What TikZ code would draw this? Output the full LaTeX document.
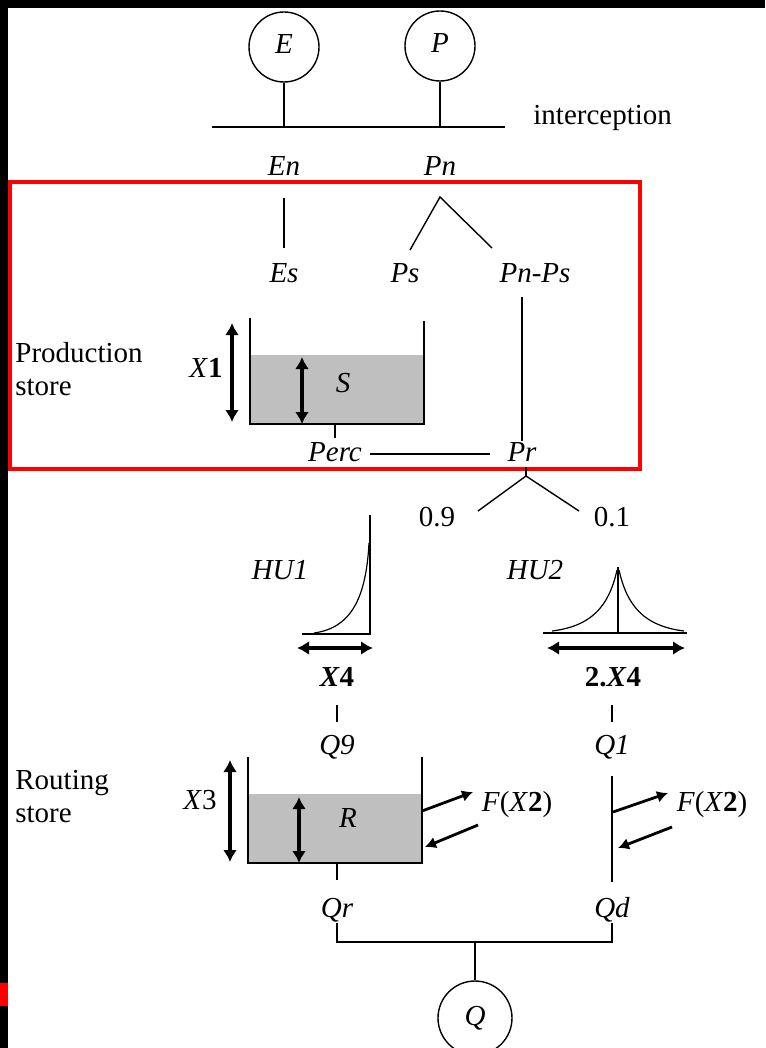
\documentclass[tikz,border=0pt]{standalone}
\usepackage{fontspec}
\setmainfont{Liberation Serif}
\usetikzlibrary{arrows.meta}

\begin{document}
\begin{tikzpicture}[
  x=0.5pt,y=-0.5pt,
  txt/.style={font=\fontsize{14.5}{17}\selectfont,inner sep=0pt,text height=10pt,text depth=3pt},
  var/.style={txt,font=\fontsize{14.5}{17}\selectfont\itshape},
  side/.style={font=\fontsize{14.5}{16.5}\selectfont,inner sep=0pt,align=left,anchor=west},
  src/.style={circle,draw,line width=0.7pt,minimum size=35pt,inner sep=0pt,var},
  ln/.style={line width=0.7pt},
  hydro/.style={line width=0.6pt},
  dim/.style={line width=1.6pt,{Latex[length=6pt,width=7pt]}-{Latex[length=6pt,width=7pt]}},
  flux/.style={line width=1.4pt,-{Latex[length=5.5pt,width=6pt]}},
  water/.style={fill=black!25}
]
  \useasboundingbox (0,0) rectangle (765,1048);
  \fill[white] (0,0) rectangle (765,1048);
  \fill[black] (0,0) rectangle (765,8);
  \fill[black] (0,0) rectangle (8,1048);
  \fill[red] (0,983) rectangle (8,1006);

  % interception
  \node[src] (E) at (284,47) {E};
  \node[src] (P) at (440,46) {P};
  \coordinate (icpL) at (212,127);
  \coordinate (icpR) at (505,127);
  \node[txt,anchor=west] (icp) at (533,118) {interception};
  \draw[ln] (icpL) -- (icpR);
  \draw[ln] (E) -- (E |- icpL);
  \draw[ln] (P) -- (P |- icpL);

  % production store
  \draw[red,line width=2.4pt] (10,182) rectangle (640,469);
  \node[var] (En) at (284,169) {En};
  \node[var] (Pn) at (440,169) {Pn};
  \node[var] (Es) at (284,275) {Es};
  \node[var] (Ps) at (405,275) {Ps};
  \node[var] (PnPs) at (535,275) {Pn-Ps};
  \coordinate (pnfork) at (440,197);
  \coordinate (psend) at (410,250);
  \coordinate (pnpsend) at (492,248);
  \draw[ln,shorten <=8pt,shorten >=7pt] (En) -- (Es);
  \draw[ln] (psend) -- (pnfork) -- (pnpsend);

  \node[side] (prodlbl) at (15,369) {Production\\store};
  \coordinate (ptl) at (250,318);
  \coordinate (pbl) at (250,424);
  \coordinate (pbr) at (424,424);
  \coordinate (ptr) at (424,321);
  \fill[water] (250,355) rectangle (pbr);
  \draw[ln] (ptl) -- (pbl) -- (pbr) -- (ptr);
  \draw[dim] (232,323) -- (232,422);
  \node[txt] (X1) at (206,370) {\textit{X}\textbf{1}};
  \draw[dim] (302,357) -- (302,424);
  \node[var] (S) at (343,385) {S};

  \node[var] (Perc) at (335,454) {Perc};
  \node[var] (Pr) at (522,454) {Pr};
  \draw[ln,shorten >=1.5pt] (Perc.north |- pbl) -- (Perc.north);
  \draw[ln,shorten <=3.8pt,shorten >=8.7pt] (Perc) -- (Pr);
  \draw[ln,shorten <=4.5pt] (Pr.north |- PnPs.south) -- (Pr.north);

  % split
  \coordinate (prfork) at (526,476);
  \coordinate (b09) at (478,511);
  \coordinate (b01) at (579,511);
  \node[txt] (n09) at (437,519) {0.9};
  \node[txt] (n01) at (612,519) {0.1};
  \draw[ln] (Pr.south -| prfork) -- (prfork);
  \draw[ln] (b09) -- (prfork) -- (b01);

  % unit hydrographs
  \node[var] (HU1) at (280,572) {HU1};
  \draw[ln] (370,515) -- (370,634) -- (302,634);
  \draw[hydro] (314,633) .. controls (350,628) and (366,600) .. (369,543);
  \draw[dim] (297,648) -- (373,648);
  \node[txt] (X4) at (337,679) {\textbf{\textit{X}4}};

  \node[var] (HU2) at (535,572) {HU2};
  \draw[ln] (618,567) -- (618,633);
  \draw[ln] (543,633) -- (687,633);
  \draw[hydro] (552,631) .. controls (592,626) and (609,606) .. (617,570);
  \draw[hydro] (684,631) .. controls (644,626) and (627,606) .. (619,570);
  \draw[dim] (547,648) -- (685,648);
  \node[txt] (X4b) at (613,679) {\textbf{2.\textit{X}4}};

  \node[var] (Q9) at (337,747) {Q9};
  \node[var] (Q1) at (612,747) {Q1};
  \draw[ln,shorten <=6.5pt,shorten >=6pt] (Q9 |- X4.south) -- (Q9.north);
  \draw[ln,shorten <=6.5pt,shorten >=6pt] (Q1 |- X4b.south) -- (Q1.north);

  % routing store
  \node[side] (routlbl) at (15,797) {Routing\\store};
  \coordinate (rtl) at (248,757);
  \coordinate (rbl) at (248,863);
  \coordinate (rbr) at (422,863);
  \coordinate (rtr) at (422,757);
  \fill[water] (248,794) rectangle (rbr);
  \draw[ln] (rtl) -- (rbl) -- (rbr) -- (rtr);
  \draw[dim] (230,760) -- (230,862);
  \node[txt] (X3) at (200,802) {\textit{X}3};
  \draw[dim] (299,797) -- (299,863);
  \node[var] (R) at (348,820) {R};

  \node[txt] (F1) at (517,804) {\textit{F}(\textit{X}\textbf{2})};
  \node[txt] (F2) at (712,804) {\textit{F}(\textit{X}\textbf{2})};
  \coordinate (rout) at (422,811);
  \coordinate (fout) at (473,792);
  \coordinate (fin) at (478,825);
  \coordinate (rin) at (425,847);
  \draw[flux] (rout) -- (fout);
  \draw[flux] (fin) -- (rin);
  \coordinate (dout) at (613,812);
  \coordinate (gout) at (668,793);
  \coordinate (gin) at (672,827);
  \coordinate (din) at (618,848);
  \draw[flux] (dout) -- (gout);
  \draw[flux] (gin) -- (din);

  \node[var] (Qr) at (337,910) {Qr};
  \node[var] (Qd) at (612,910) {Qd};
  \draw[ln,shorten >=8.5pt] (Qr.north |- rbl) -- (Qr.north);
  \draw[ln,shorten <=8pt,shorten >=7.5pt] (Q1) -- (Qd);

  % total flow
  \coordinate (qjoin) at (475,942);
  \node[src,minimum size=37pt] (Q) at (475,1018) {Q};
  \draw[ln] (Qr.south) -- (Qr.south |- qjoin) -- (Qd.south |- qjoin) -- (Qd.south);
  \draw[ln] (qjoin) -- (Q);
\end{tikzpicture}
\end{document}
